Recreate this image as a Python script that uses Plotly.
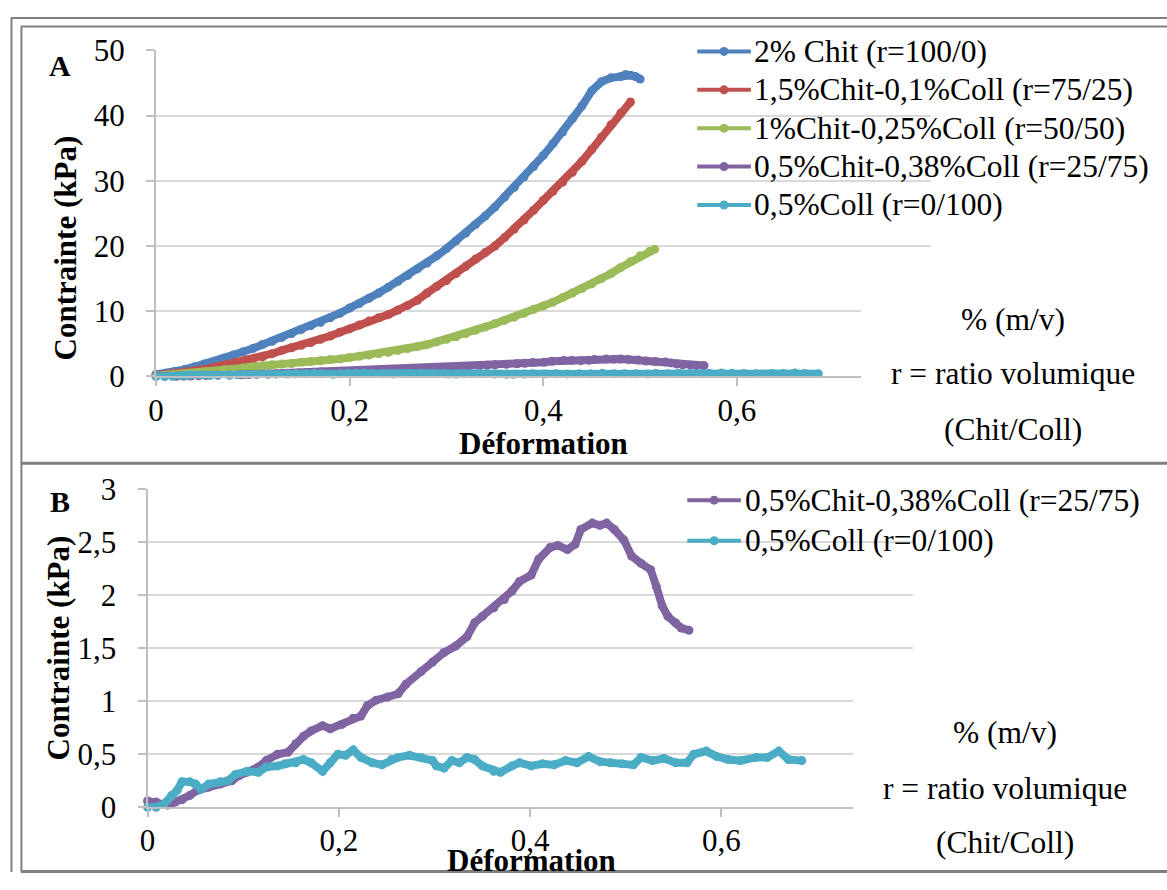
import plotly.graph_objects as go

W, H = 1167, 890

# ---------------- data ----------------
chit_x = [0.00, 0.01, 0.02, 0.03, 0.04, 0.05, 0.06, 0.07, 0.08, 0.09, 0.10, 0.11, 0.12, 0.13, 0.14,
          0.15, 0.16, 0.17, 0.18, 0.19, 0.20, 0.21, 0.22, 0.23, 0.24, 0.25, 0.26, 0.27, 0.28, 0.29,
          0.30, 0.31, 0.32, 0.33, 0.34, 0.35, 0.36, 0.37, 0.38, 0.39, 0.40, 0.41, 0.42, 0.43, 0.44,
          0.45, 0.46, 0.47, 0.48, 0.485, 0.49, 0.495, 0.50]
chit_y = [0.3, 0.5, 0.8, 1.1, 1.5, 1.9, 2.3, 2.8, 3.3, 3.8, 4.3, 4.9, 5.4, 6.0, 6.6,
          7.2, 7.8, 8.3, 9.0, 9.7, 10.5, 11.2, 12.0, 12.8, 13.7, 14.6, 15.5, 16.5, 17.4, 18.5,
          19.6, 20.8, 22.0, 23.3, 24.6, 26.0, 27.5, 29.0, 30.6, 32.2, 33.9, 35.7, 37.5, 39.5, 41.5,
          43.8, 45.2, 45.8, 46.0, 46.3, 46.2, 46.0, 45.6]

c75_x = [0.00, 0.01, 0.02, 0.03, 0.04, 0.05, 0.06, 0.07, 0.08, 0.09, 0.10, 0.11, 0.12, 0.13, 0.14,
         0.15, 0.16, 0.17, 0.18, 0.19, 0.20, 0.21, 0.22, 0.23, 0.24, 0.25, 0.26, 0.27, 0.28, 0.29,
         0.30, 0.31, 0.32, 0.33, 0.34, 0.35, 0.36, 0.37, 0.38, 0.39, 0.40, 0.41, 0.42, 0.43, 0.44,
         0.45, 0.46, 0.47, 0.48, 0.49]
c75_y = [0.2, 0.3, 0.5, 0.7, 0.9, 1.1, 1.4, 1.7, 2.0, 2.3, 2.6, 3.0, 3.5, 4.0, 4.4,
         4.8, 5.2, 5.7, 6.2, 6.8, 7.3, 7.9, 8.5, 9.0, 9.5, 10.2, 10.9, 11.7, 12.8, 13.8,
         14.7, 15.8, 16.9, 18.0, 19.0, 20.0, 21.3, 22.6, 24.0, 25.5, 27.0, 28.4, 29.8, 31.3, 33.0,
         34.8, 36.7, 38.6, 40.4, 42.1]

c50_x = [0.00, 0.01, 0.02, 0.03, 0.04, 0.05, 0.06, 0.07, 0.08, 0.09, 0.10, 0.11, 0.12, 0.13, 0.14,
         0.15, 0.16, 0.17, 0.18, 0.19, 0.20, 0.21, 0.22, 0.23, 0.24, 0.25, 0.26, 0.27, 0.28, 0.29,
         0.30, 0.31, 0.32, 0.33, 0.34, 0.35, 0.36, 0.37, 0.38, 0.39, 0.40, 0.41, 0.42, 0.43, 0.44,
         0.45, 0.46, 0.47, 0.48, 0.49, 0.50, 0.51, 0.515]
c50_y = [0.1, 0.2, 0.3, 0.4, 0.5, 0.7, 0.8, 1.0, 1.1, 1.3, 1.5, 1.6, 1.8, 1.9, 2.0,
         2.2, 2.3, 2.4, 2.6, 2.7, 2.9, 3.1, 3.3, 3.5, 3.7, 4.0, 4.3, 4.6, 4.9, 5.3,
         5.7, 6.1, 6.6, 7.1, 7.6, 8.1, 8.6, 9.1, 9.7, 10.3, 10.8, 11.4, 12.1, 12.8, 13.5,
         14.2, 15.0, 15.8, 16.7, 17.6, 18.5, 19.2, 19.5]

c25_x = [0.000, 0.009, 0.021, 0.029, 0.036, 0.044, 0.052, 0.064, 0.076, 0.088, 0.096, 0.104, 0.116,
         0.124, 0.136, 0.147, 0.155, 0.163, 0.171, 0.183, 0.191, 0.203, 0.215, 0.223, 0.230, 0.239,
         0.251, 0.262, 0.270, 0.286, 0.298, 0.310, 0.322, 0.334, 0.342, 0.350, 0.362, 0.373, 0.381,
         0.389, 0.401, 0.409, 0.421, 0.429, 0.439, 0.447, 0.453, 0.465, 0.473, 0.480, 0.488, 0.498,
         0.506, 0.516, 0.526, 0.532, 0.538, 0.544, 0.552, 0.558, 0.566]
c25_y = [0.06, 0.05, 0.02, 0.05, 0.07, 0.11, 0.16, 0.19, 0.22, 0.25, 0.30, 0.33, 0.38,
         0.44, 0.50, 0.52, 0.60, 0.67, 0.72, 0.77, 0.74, 0.78, 0.84, 0.86, 0.96, 1.01,
         1.04, 1.07, 1.16, 1.28, 1.37, 1.46, 1.52, 1.61, 1.74, 1.80, 1.88, 1.96, 2.04,
         2.13, 2.19, 2.34, 2.45, 2.47, 2.43, 2.48, 2.62, 2.68, 2.66, 2.68, 2.62, 2.52,
         2.37, 2.30, 2.24, 2.08, 1.90, 1.80, 1.74, 1.69, 1.67]

coll_x = [0.000, 0.009, 0.017, 0.025, 0.031, 0.036, 0.044, 0.050, 0.056, 0.064, 0.076, 0.084, 0.092,
          0.104, 0.116, 0.124, 0.136, 0.144, 0.155, 0.163, 0.171, 0.183, 0.191, 0.199, 0.207, 0.215,
          0.223, 0.235, 0.245, 0.255, 0.262, 0.274, 0.286, 0.298, 0.302, 0.310, 0.318, 0.326, 0.334,
          0.342, 0.350, 0.362, 0.369, 0.381, 0.389, 0.401, 0.413, 0.425, 0.437, 0.449, 0.461, 0.473,
          0.484, 0.496, 0.508, 0.516, 0.528, 0.540, 0.552, 0.564, 0.571, 0.584, 0.595, 0.607, 0.620,
          0.636, 0.648, 0.660, 0.670, 0.684]
coll_y = [0.00, 0.00, 0.03, 0.11, 0.16, 0.24, 0.24, 0.22, 0.17, 0.22, 0.24, 0.25, 0.31,
          0.34, 0.33, 0.38, 0.39, 0.41, 0.42, 0.45, 0.42, 0.34, 0.42, 0.50, 0.49, 0.54,
          0.47, 0.42, 0.40, 0.45, 0.47, 0.49, 0.47, 0.44, 0.39, 0.37, 0.44, 0.42, 0.47,
          0.45, 0.39, 0.34, 0.33, 0.39, 0.42, 0.39, 0.41, 0.40, 0.44, 0.42, 0.48, 0.43,
          0.42, 0.41, 0.40, 0.47, 0.44, 0.46, 0.42, 0.42, 0.50, 0.53, 0.48, 0.45, 0.44,
          0.47, 0.47, 0.53, 0.45, 0.44]

names_A = ["2% Chit (r=100/0)", "1,5%Chit-0,1%Coll (r=75/25)", "1%Chit-0,25%Coll (r=50/50)",
           "0,5%Chit-0,38%Coll (r=25/75)", "0,5%Coll (r=0/100)"]
colors = ["#4F81BD", "#C0504D", "#9BBB59", "#8064A2", "#4BACC6"]
x_ticks = [0, 0.2, 0.4, 0.6]
x_ticktext = ["0", "0,2", "0,4", "0,6"]
yA_ticks = [0, 10, 20, 30, 40, 50]
yB_ticks = [0, 0.5, 1, 1.5, 2, 2.5, 3]
yB_ticktext = ["0", "0,5", "1", "1,5", "2", "2,5", "3"]

FONT = "Liberation Serif"

# The photographed page comes out shifted ~4 px right and slightly squeezed
# vertically (y' = 0.9634*y + 15.5); place everything so it lands where intended.
SX, OX = 1.0, 4.0
SY, OY = 0.9634, 15.48

def X(px):
    return min(max((px - OX) / SX / W, 0.0), 1.0)

def Y(py, clamp=True):
    v = 1 - ((py - OY) / SY) / H
    if clamp:
        v = min(max(v, 0.5 / H), 1 - 1.0 / H)
    return v

fig = go.Figure()

seriesA = [(chit_x, chit_y), (c75_x, c75_y), (c50_x, c50_y), (c25_x, c25_y), (coll_x, coll_y)]
panels = [("x", "y", range(5)), ("x2", "y2", range(3, 5))]
for xa, ya, idx in panels:
    for i in idx:
        xs, ys = seriesA[i]
        fig.add_trace(go.Scatter(x=xs, y=ys, name=names_A[i], mode="lines+markers",
                                 line=dict(color=colors[i], width=8),
                                 marker=dict(color=colors[i], size=9),
                                 cliponaxis=False, xaxis=xa, yaxis=ya, showlegend=False))

axis_common = dict(showline=True, linecolor="#BFBFBF", linewidth=2, ticks="outside",
                   ticklen=8, tickcolor="#BFBFBF", tickwidth=2, zeroline=False,
                   tickfont=dict(family=FONT, size=31, color="black"))

fig.update_layout(
    width=W, height=H, margin=dict(l=0, r=0, t=0, b=0), autosize=False,
    paper_bgcolor="white", plot_bgcolor="white", showlegend=False,
    xaxis=dict(domain=[X(153), X(933)], range=[0, 0.8], tickvals=x_ticks, ticktext=x_ticktext,
               showgrid=False, anchor="y", ticklabelstandoff=-3, **axis_common),
    yaxis=dict(domain=[Y(376), Y(49)], range=[0, 50], tickvals=yA_ticks,
               showgrid=True, gridcolor="#D9D9D9", gridwidth=2, anchor="x",
               ticklabelstandoff=15, **axis_common),
    xaxis2=dict(domain=[X(144.5), X(915)], range=[0, 0.8], tickvals=x_ticks, ticktext=x_ticktext,
                showgrid=False, anchor="y2", ticklabelstandoff=-3, **axis_common),
    yaxis2=dict(domain=[Y(808), Y(489)], range=[0, 3], tickvals=yB_ticks, ticktext=yB_ticktext,
                showgrid=True, gridcolor="#D9D9D9", gridwidth=2, anchor="x2",
                ticklabelstandoff=15, **axis_common),
)

GRAY = "#808080"
shapes = [
    # white covers behind the notes
    dict(type="rect", xref="paper", yref="paper", x0=X(863), x1=X(1160), y0=Y(458), y1=Y(258),
         fillcolor="white", line=dict(width=0), layer="above"),
    dict(type="rect", xref="paper", yref="paper", x0=X(855), x1=X(1160), y0=Y(884), y1=Y(662),
         fillcolor="white", line=dict(width=0), layer="above"),
    # outer frame
    dict(type="line", xref="paper", yref="paper", x0=X(7), x1=1, y0=Y(13), y1=Y(13),
         line=dict(color=GRAY, width=2)),
    dict(type="line", xref="paper", yref="paper", x0=X(7.5), x1=X(7.5), y0=Y(13), y1=0,
         line=dict(color=GRAY, width=2)),
    # inner frames
    dict(type="line", xref="paper", yref="paper", x0=X(17), x1=1, y0=Y(25), y1=Y(25),
         line=dict(color=GRAY, width=2)),
    dict(type="line", xref="paper", yref="paper", x0=X(17.5), x1=X(17.5), y0=Y(25), y1=Y(887),
         line=dict(color=GRAY, width=2)),
    dict(type="line", xref="paper", yref="paper", x0=X(17), x1=1, y0=Y(463), y1=Y(463),
         line=dict(color=GRAY, width=3)),
    dict(type="line", xref="paper", yref="paper", x0=X(17), x1=1, y0=Y(887), y1=Y(887),
         line=dict(color=GRAY, width=3)),
]

def ann(text, px, py, size=31, bold=False, angle=0, xanchor="center"):
    t = f"<b>{text}</b>" if bold else text
    fig.add_annotation(text=t, x=X(px), y=Y(py), xref="paper", yref="paper",
                       xanchor=xanchor, yanchor="middle", showarrow=False, textangle=angle,
                       font=dict(family=FONT, size=size, color="black"))

# legends (line + marker symbol and label), as in the original figure
def legend_entry(name, color, x0, x1, tx, py):
    shapes.append(dict(type="line", xref="paper", yref="paper", x0=X(x0), x1=X(x1),
                       y0=Y(py), y1=Y(py), line=dict(color=color, width=4)))
    cx = (x0 + x1) / 2
    shapes.append(dict(type="circle", xref="paper", yref="paper", xsizemode="pixel",
                       ysizemode="pixel", xanchor=X(cx), yanchor=Y(py),
                       x0=-4.5, x1=4.5, y0=-4.5, y1=4.5, fillcolor=color,
                       line=dict(width=0)))
    ann(name, tx, py, size=31.5, xanchor="left")

legA_rows = [50, 88.5, 127, 165.5, 204]
for i in range(5):
    legend_entry(names_A[i], colors[i], 698, 752, 753, legA_rows[i])
legB_rows = [500, 540.7]
for k, i in enumerate([3, 4]):
    legend_entry(names_A[i], colors[i], 688, 742, 744, legB_rows[k])

fig.update_layout(shapes=shapes)

ann("A", 56, 64, size=30, bold=True)
ann("B", 56, 501, size=30, bold=True)
ann("Contrainte (kPa)", 62, 247, bold=True, angle=-90)
ann("Contrainte (kPa)", 55, 648, bold=True, angle=-90)
ann("Déformation", 543, 443, bold=True)
ann("Déformation", 531, 861, bold=True)
ann("% (m/v)", 1016, 319, size=31.5)
ann("r = ratio volumique", 1016, 373, size=31.5)
ann("(Chit/Coll)", 1016, 429, size=31.5)
ann("% (m/v)", 1008, 733, size=31.5)
ann("r = ratio volumique", 1008, 789, size=31.5)
ann("(Chit/Coll)", 1008, 843, size=31.5)

pin_js = (
    "var gd=document.getElementById('{plot_id}');"
    "document.documentElement.style.margin='0';document.documentElement.style.padding='0';"
    "document.body.style.margin='0';document.body.style.padding='0';"
    "document.documentElement.style.overflow='hidden';document.body.style.overflow='hidden';"
    "gd.style.position='fixed';gd.style.left='0px';gd.style.top='0px';"
    "gd.style.zIndex='9999';gd.style.background='white';"
)
fig.write_html("out.html", post_script=pin_js)
